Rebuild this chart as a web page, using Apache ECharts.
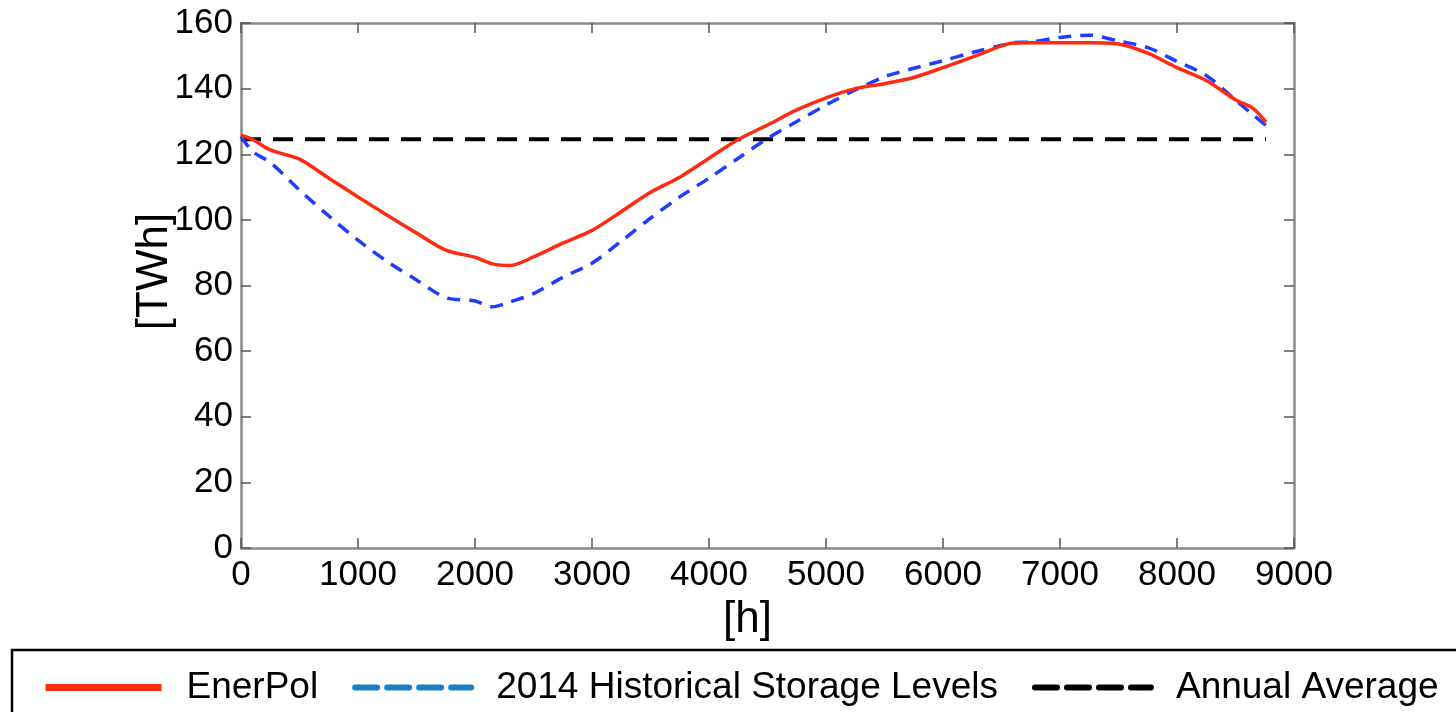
<!DOCTYPE html>
<html>
<head>
<meta charset="utf-8">
<title>Storage levels</title>
<script src="https://cdn.jsdelivr.net/npm/echarts@6/dist/echarts.min.js"></script>
<style>
  html, body { margin: 0; padding: 0; background: #fff; }
  #chart { width: 1456px; height: 712px; }
</style>
</head>
<body>
<div id="chart"></div>
<script>
// hours of the year
const hours = [0, 100, 250, 500, 750, 1000, 1250, 1500, 1750, 2000, 2150, 2300, 2500,
  2750, 3000, 3250, 3500, 3750, 4000, 4250, 4500, 4750, 5000, 5250, 5500, 5750, 6000,
  6250, 6500, 6600, 6750, 7000, 7250, 7500, 7750, 8000, 8250, 8500, 8650, 8760];

// TWh
const enerPol = [125.8, 124.5, 121.3, 118.5, 112.7, 107.0, 101.4, 96.0, 90.8, 88.6, 86.6,
  86.1, 88.7, 92.9, 96.8, 102.5, 108.4, 113.0, 118.8, 124.5, 128.9, 133.5, 137.2, 140.0,
  141.5, 143.4, 146.4, 149.6, 153.0, 153.9, 154.0, 154.0, 154.0, 153.6, 150.8, 146.4,
  142.5, 136.6, 134.0, 129.8];

const historical2014 = [125.5, 120.8, 117.5, 109.1, 101.2, 93.8, 87.3, 81.7, 76.3, 75.3,
  73.5, 75.0, 77.5, 82.5, 86.8, 93.5, 100.5, 107.0, 112.7, 118.8, 124.8, 130.0, 135.0,
  139.6, 143.6, 146.2, 148.5, 151.0, 153.2, 154.0, 154.2, 155.6, 156.3, 154.5, 152.5,
  148.3, 144.0, 136.5, 132.0, 128.8];

const averageHours = [0, 8760];
const annualAverage = [124.6, 124.6];

const xTicks = { min: 0, max: 9000, interval: 1000 };
const yTicks = { min: 0, max: 160, interval: 20 };

const pairs = (xs, ys) => xs.map((x, i) => [x, ys[i]]);

const font = "'Liberation Sans', Arial, sans-serif";
const axisGrey = "#8a8a8a";

const boxAxis = {
  axisLine: { show: true, onZero: false, lineStyle: { color: axisGrey, width: 2.5 } },
  axisTick: { show: true, inside: true, length: 10, lineStyle: { color: "#555", width: 1.5 } },
  splitLine: { show: false }
};

const option = {
  animation: false,
  textStyle: { fontFamily: font },
  grid: { left: 241, right: 162, top: 23, bottom: 164 },
  xAxis: [
    {
      type: "value",
      ...xTicks,
      ...boxAxis,
      name: "[h]",
      nameLocation: "middle",
      nameGap: 46,
      nameTextStyle: { fontSize: 44, color: "#000", fontFamily: font, padding: [0, 40, 0, 0] },
      axisLabel: {
        fontSize: 35, color: "#000", margin: 10, fontFamily: font,
        formatter: (v) => String(v)
      }
    },
    {
      type: "value",
      position: "top",
      ...xTicks,
      ...boxAxis,
      axisLabel: { show: false }
    }
  ],
  yAxis: [
    {
      type: "value",
      ...yTicks,
      ...boxAxis,
      name: "[TWh]",
      nameLocation: "middle",
      nameGap: 64,
      nameMoveOverlap: false,
      nameTextStyle: { fontSize: 44, color: "#000", fontFamily: font, padding: [0, 0, 0, 28] },
      axisLabel: { fontSize: 35, color: "#000", margin: 8, fontFamily: font }
    },
    {
      type: "value",
      position: "right",
      ...yTicks,
      ...boxAxis,
      axisLabel: { show: false }
    }
  ],
  legend: {
    left: 37,
    top: 664,
    itemWidth: 116,
    itemHeight: 8,
    itemGap: 34,
    itemStyle: { opacity: 0 },
    textStyle: { fontSize: 37, color: "#000", fontFamily: font, padding: [0, 0, 0, 20] },
    data: [
      { name: "EnerPol", lineStyle: { width: 7, type: "solid" } },
      {
        name: "2014 Historical Storage Levels",
        lineStyle: { color: "#1a80c4", width: 6, type: [22, 10], cap: "round" }
      },
      { name: "Annual Average", lineStyle: { color: "#000", width: 6, type: [22, 10], cap: "round" } }
    ]
  },
  graphic: [
    {
      type: "rect",
      silent: true,
      shape: { x: 12, y: 650, width: 1470, height: 90 },
      style: { fill: "none", stroke: "#000", lineWidth: 2.5 }
    }
  ],
  series: [
    {
      name: "Annual Average",
      type: "line",
      symbol: "none",
      data: pairs(averageHours, annualAverage),
      lineStyle: { color: "#000", width: 4, type: [20, 12] },
      itemStyle: { color: "#000" },
      z: 2
    },
    {
      name: "2014 Historical Storage Levels",
      type: "line",
      symbol: "none",
      smooth: 0.3,
      data: pairs(hours, historical2014),
      lineStyle: { color: "#1f3dff", width: 3.5, type: [13, 9] },
      itemStyle: { color: "#1f3dff" },
      z: 3
    },
    {
      name: "EnerPol",
      type: "line",
      symbol: "none",
      smooth: 0.3,
      data: pairs(hours, enerPol),
      lineStyle: { color: "#ff2a10", width: 3.5 },
      itemStyle: { color: "#ff2a10" },
      z: 4
    }
  ]
};

const chart = echarts.init(document.getElementById("chart"), null, { renderer: "canvas" });
chart.setOption(option);
</script>
</body>
</html>
